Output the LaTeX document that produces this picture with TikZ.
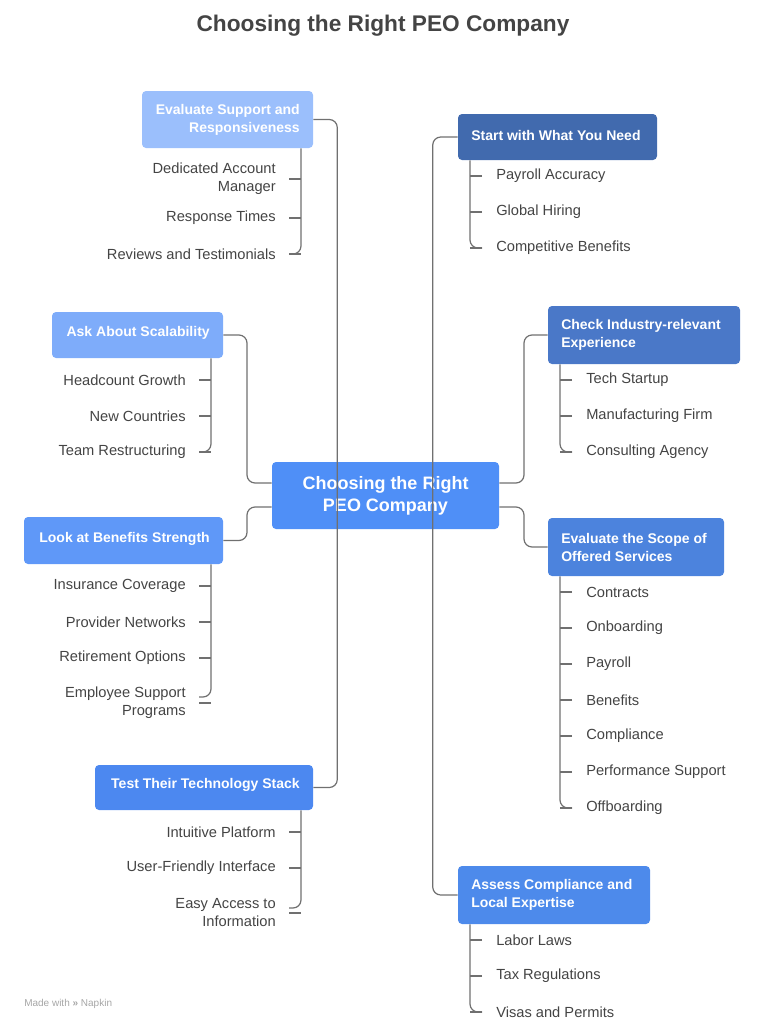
\documentclass[tikz,border=0pt]{standalone}
\usepackage{fontspec}
\setmainfont{Liberation Sans}
\usetikzlibrary{calc}
\definecolor{cSup}{HTML}{9BBFFC}
\definecolor{cSca}{HTML}{7EACFA}
\definecolor{cBen}{HTML}{5F98F8}
\definecolor{cTec}{HTML}{4C88F0}
\definecolor{cSta}{HTML}{416AAE}
\definecolor{cInd}{HTML}{4A78C8}
\definecolor{cSco}{HTML}{4C83DD}
\definecolor{cCom}{HTML}{4D8AEB}
\definecolor{cCen}{HTML}{4F8FF7}
\definecolor{ln}{HTML}{707070}
\definecolor{tx}{HTML}{444444}
\begin{document}
\begin{tikzpicture}[x=0.75pt,y=-0.75pt,
 box/.style={rounded corners=3pt,inner sep=0,text=white,font=\fontsize{10.5}{13.5}\selectfont\bfseries},
 lbox/.style={box,align=right},
 rbox/.style={box,align=left},
 kid/.style={inner sep=0,text=tx,font=\fontsize{11}{13.5}\selectfont},
 conn/.style={draw=ln,line width=0.9pt,rounded corners=6pt}]
\useasboundingbox (0,0) rectangle (766,1032);
\node[text=tx,font=\fontsize{17}{20}\selectfont\bfseries] (title) at (383,26) {Choosing the Right PEO Company};
% center
\node[box,fill=cCen,minimum width=227*0.75pt,minimum height=67*0.75pt,align=center,font=\fontsize{13.5}{16.5}\selectfont\bfseries] (cen) at (385.5,495.5) {Choosing the Right\\PEO Company};
% left boxes
\node[lbox,fill=cSup,minimum width=171*0.75pt,minimum height=57*0.75pt] (sup) at (227.5,119.5) {};
\node[lbox,text=white,anchor=east] at (300,119.5) {Evaluate Support and\\Responsiveness};
\node[lbox,fill=cSca,minimum width=171*0.75pt,minimum height=46*0.75pt] (sca) at (137.5,335) {};
\node[lbox,anchor=east] at (210,333) {Ask About Scalability};
\node[lbox,fill=cBen,minimum width=199*0.75pt,minimum height=47*0.75pt] (ben) at (123.5,540.5) {};
\node[lbox,anchor=east] at (210,539) {Look at Benefits Strength};
\node[lbox,fill=cTec,minimum width=218*0.75pt,minimum height=45*0.75pt] (tec) at (204,787.5) {};
\node[lbox,anchor=east] at (300,785) {Test Their Technology Stack};
% right boxes
\node[rbox,fill=cSta,minimum width=199*0.75pt,minimum height=46*0.75pt] (sta) at (557.5,137) {};
\node[rbox,anchor=west] at (471,135) {Start with What You Need};
\node[rbox,fill=cInd,minimum width=192*0.75pt,minimum height=58*0.75pt] (ind) at (644,335) {};
\node[rbox,anchor=west] at (561,335) {Check Industry-relevant\\Experience};
\node[rbox,fill=cSco,minimum width=176*0.75pt,minimum height=58*0.75pt] (sco) at (636,547) {};
\node[rbox,anchor=west] at (561,547) {Evaluate the Scope of\\Offered Services};
\node[rbox,fill=cCom,minimum width=192*0.75pt,minimum height=58*0.75pt] (com) at (554,895) {};
\node[rbox,anchor=west] at (471,895) {Assess Compliance and\\Local Expertise};
% main connectors
\draw[conn] (sup.east) -| ($(tec.east)+(24,0)$) -- (tec.east);
\draw[conn] (sta.west) -| ($(com.west)+(-25,0)$) -- (com.west);
\draw[conn] (sca.east) -| (247,483) -- (cen.west |- 0,483);
\draw[conn] (ben.east) -| (247,507) -- (cen.west |- 0,507);
\draw[conn] (ind.west) -| (524,483) -- (cen.east |- 0,483);
\draw[conn] (sco.west) -| (524,507) -- (cen.east |- 0,507);
% left children
\newcommand{\lkids}[4]{% box, xline, bottom y, list name/y/text
 \foreach \n/\y/\t in {#4}{
  \node[kid,anchor=east,align=right] (\n) at (#2-25,\y) {\t};
  \draw[conn] ($(\n.east)+(13,0)$) -- (#2,\y);}
 \draw[conn] (#1.south -| #2,0) -- (#2,#3) -- (#2-12,#3);}
\newcommand{\rkids}[4]{%
 \foreach \n/\y/\t in {#4}{
  \node[kid,anchor=west,align=left] (\n) at (#2+26,\y) {\t};
  \draw[conn] ($(\n.west)+(-14,0)$) -- (#2,\y);}
 \draw[conn] (#1.south -| #2,0) -- (#2,#3) -- (#2+12,#3);}
\lkids{sup}{301}{254}{s1/179/{Dedicated Account\\Manager},s2/218/Response Times,s3/254/Reviews and Testimonials}
\lkids{sca}{211}{452}{a1/380/Headcount Growth,a2/416/New Countries,a3/452/Team Restructuring}
\lkids{ben}{211}{697}{b1/586/Insurance Coverage,b2/622/Provider Networks,b3/658/Retirement Options,b4/703/{Employee Support\\Programs}}
\lkids{tec}{301}{908}{t1/832/Intuitive Platform,t2/868/User-Friendly Interface,t3/913/{Easy Access to\\Information}}
\rkids{sta}{470}{248}{p1/176/Payroll Accuracy,p2/212/Global Hiring,p3/248/Competitive Benefits}
\rkids{ind}{560}{452}{i1/380/Tech Startup,i2/416/Manufacturing Firm,i3/452/Consulting Agency}
\rkids{sco}{560}{808}{o1/592/Contracts,o2/628/Onboarding,o3/664/Payroll,o4/700/Benefits,o5/736/Compliance,o6/772/Performance Support,o7/808/Offboarding}
\rkids{com}{470}{1012}{c1/940/Labor Laws,c2/976/Tax Regulations,c3/1012/Visas and Permits}
\node[anchor=west,inner sep=0,text=gray!70,font=\fontsize{7.5}{9}\selectfont] (mw) at (24,1004) {Made with \textbf{\guillemotright} Napkin};
\end{tikzpicture}
\end{document}
